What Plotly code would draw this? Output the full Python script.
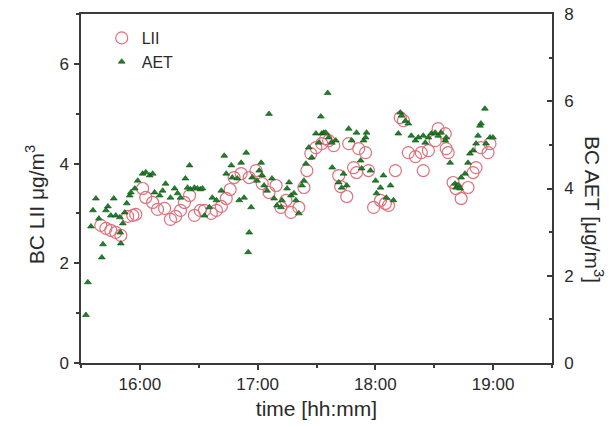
import datetime as dt
import plotly.graph_objects as go

# minutes after 15:00 and values
lii_min = [40.1, 42.7, 45.2, 47.7, 50.3, 53.8, 56.4, 57.9, 61.4, 63.0, 66.5, 69.0, 72.6, 75.6, 78.2,
           80.7, 82.7, 85.3, 87.8, 90.8, 92.9, 96.4, 99.0, 101.5, 104.0, 106.0, 108.0, 111.6, 115.7,
           119.2, 122.3, 125.8, 129.4, 131.9, 134.4, 137.0, 141.0, 143.6, 145.1, 147.1, 149.7, 152.7,
           154.7, 156.2, 158.8, 161.3, 162.3, 165.4, 166.4, 168.9, 170.4, 171.5, 175.0, 176.5, 179.1,
           182.6, 185.1, 186.7, 190.2, 192.7, 194.3, 196.8, 200.4, 203.4, 204.4, 207.0, 210.5, 212.0,
           215.6, 216.1, 217.1, 219.6, 221.1, 223.7, 227.2, 229.8, 231.3, 233.8, 237.4, 238.4]
lii_val = [2.76, 2.70, 2.66, 2.62, 2.56, 2.94, 2.96, 2.98, 3.50, 3.32, 3.22, 3.08, 3.10, 2.88, 2.94,
           3.06, 3.22, 3.36, 2.96, 3.06, 3.06, 3.00, 3.06, 3.14, 3.30, 3.48, 3.72, 3.80, 3.72,
           3.86, 3.60, 3.42, 3.56, 3.12, 3.26, 3.02, 3.12, 3.52, 3.86, 4.20, 4.32, 4.40,
           4.50, 4.46, 4.36, 3.76, 3.54, 3.34, 4.40, 3.92, 3.82, 4.30, 4.22, 3.86, 3.12,
           3.26, 3.20, 3.16, 3.86, 4.92, 4.86, 4.22, 4.14, 4.22, 3.86, 4.26, 4.46, 4.70,
           4.60, 4.30, 4.22, 3.62, 3.50, 3.30, 3.52, 3.82, 3.92, 4.32, 4.22, 4.40]

aet_min = [32.5, 33.5, 35.1, 36.1, 37.6, 39.1, 40.6, 41.2, 42.7, 43.7, 45.2, 46.7, 47.7, 49.8, 50.0,
           50.3, 51.3, 52.3, 53.3, 54.8, 55.4, 57.4, 58.9, 61.4, 63.0, 65.0, 66.5, 67.5, 70.1,
           71.6, 73.1, 75.6, 77.7, 79.2, 80.7, 83.2, 84.3, 85.3, 85.8, 87.8, 89.3, 90.8, 91.9,
           92.9, 95.4, 96.9, 99.0, 101.5, 103.0, 104.0, 106.6, 107.1, 109.6, 110.6, 111.6, 113.1,
           114.2, 115.2, 115.7, 116.7, 117.2, 119.7, 120.8, 121.8, 122.3, 123.3, 124.8, 125.8,
           127.3, 128.4, 129.9, 131.9, 132.4, 135.0, 136.0, 137.0, 138.5, 139.5, 141.0, 142.6,
           143.6, 144.6, 146.1, 147.6, 149.7, 151.2, 152.2, 152.7, 153.7, 154.7, 155.7, 156.2,
           157.8, 158.0, 159.8, 161.3, 162.8, 163.8, 165.4, 166.4, 167.9, 170.4, 172.5, 173.0,
           174.0, 175.0, 175.5, 177.5, 180.1, 180.6, 182.6, 184.1, 185.6, 187.7, 189.2, 191.7,
           192.7, 193.3, 195.3, 196.8, 198.3, 200.4, 201.9, 204.4, 205.4, 207.0, 208.5, 210.5,
           212.0, 213.5, 215.6, 216.1, 218.1, 220.6, 221.1, 222.2, 223.2, 223.7, 225.7, 227.2,
           228.2, 229.8, 231.3, 232.3, 233.3, 233.8, 235.8, 236.4, 238.4, 239.9]
aet_val = [1.10, 1.85, 3.13, 3.50, 3.77, 3.31, 2.42, 2.72, 3.50, 3.59, 3.38, 3.77, 3.38, 3.34, 2.99,
           2.74, 3.20, 3.45, 3.66, 3.84, 3.91, 4.00, 4.18, 4.34, 4.37, 4.30, 4.34, 3.91, 3.84,
           3.95, 4.11, 3.79, 4.00, 3.89, 3.79, 4.23, 4.02, 4.53, 3.98, 4.02, 4.00, 3.98, 4.00,
           3.38, 3.57, 3.79, 3.73, 3.95, 4.75, 4.34, 4.53, 4.25, 4.23, 3.73, 4.59, 3.79,
           4.82, 2.54, 2.99, 3.57, 4.25, 4.18, 4.41, 4.59, 4.30, 4.07, 3.95, 5.71,
           4.23, 3.77, 3.61, 3.57, 3.73, 4.00, 4.14, 3.84, 3.89, 3.73, 3.43, 4.07,
           4.18, 4.57, 4.94, 4.71, 5.26, 5.05, 5.65, 5.26, 5.28, 5.28, 6.19, 5.17,
           5.05, 4.48, 5.10, 4.14, 4.02, 4.34, 4.07, 5.37, 5.10, 5.28, 4.64, 4.46,
           5.10, 5.17, 5.28, 4.41, 4.18, 3.89, 4.02, 4.30, 3.79, 4.07, 3.73, 5.26,
           5.74, 5.67, 5.55, 5.49, 5.21, 5.10, 5.17, 5.21, 5.05, 5.17, 5.26, 5.28,
           5.21, 5.28, 5.10, 5.17, 4.59, 4.11, 4.02, 4.07, 4.00, 4.25, 4.34, 4.59,
           4.80, 4.87, 5.03, 5.21, 5.44, 5.49, 5.83, 5.03, 5.17, 5.17]

base = dt.datetime(2010, 1, 1, 15, 0)
to_t = lambda ms: [base + dt.timedelta(minutes=m) for m in ms]

FONT = "Liberation Sans, Arial, sans-serif"
AX = "#3a3a3a"

fig = go.Figure()
fig.add_trace(go.Scatter(
    x=to_t(lii_min), y=lii_val, mode="markers", name="LII",
    marker=dict(symbol="circle-open", size=12, color="#e0707c", line=dict(width=1.2, color="#e0707c")),
))
fig.add_trace(go.Scatter(
    x=to_t(aet_min), y=aet_val, mode="markers", name="AET", yaxis="y2",
    marker=dict(symbol="triangle-up", size=6, color="#1c8226", line=dict(width=0.6, color="#0f4a14")),
))

fig.update_layout(
    width=615, height=427,
    margin=dict(l=81, r=63, t=14, b=64),
    paper_bgcolor="white", plot_bgcolor="white",
    font=dict(family=FONT, size=17, color="#2a2a2a"),
    showlegend=True,
    legend=dict(x=0.044, y=0.98, xanchor="left", yanchor="top", bgcolor="rgba(0,0,0,0)",
                font=dict(size=16), itemsizing="trace", tracegroupgap=0),
    xaxis=dict(
        type="date", automargin=False,
        range=[base + dt.timedelta(minutes=30), base + dt.timedelta(minutes=270)],
        tick0=base + dt.timedelta(minutes=60), dtick=3600000, tickformat="%H:%M",
        ticks="outside", ticklen=5, tickwidth=1.5, tickcolor=AX,
        minor=dict(dtick=1800000, tick0=base + dt.timedelta(minutes=30), ticks="outside", ticklen=3, tickcolor=AX),
        showline=True, linecolor=AX, linewidth=1.5, mirror=True,
        showgrid=False, zeroline=False,
        title=dict(text="time [hh:mm]", font=dict(size=21), standoff=8),
    ),
    yaxis=dict(
        range=[0, 7], dtick=2, tick0=0, automargin=False,
        ticks="outside", ticklen=5, tickwidth=1.5, tickcolor=AX, ticklabelstandoff=2,
        minor=dict(dtick=1, ticks="outside", ticklen=3, tickcolor=AX),
        showline=True, linecolor=AX, linewidth=1.5,
        showgrid=False, zeroline=False,
    ),
    yaxis2=dict(
        range=[0, 8], dtick=2, tick0=0, overlaying="y", side="right", automargin=False,
        ticks="inside", ticklen=5, tickwidth=1.5, tickcolor=AX, ticklabelstandoff=7,
        minor=dict(dtick=1, ticks="inside", ticklen=3, tickcolor=AX),
        showline=True, linecolor=AX, linewidth=1.5,
        showgrid=False, zeroline=False,
    ),
    annotations=[
        dict(text="BC LII μg/m<sup>3</sup>", xref="paper", yref="paper",
             x=-0.097, y=0.453, textangle=-90, showarrow=False, font=dict(size=21),
             xanchor="center", yanchor="middle"),
        dict(text="BC AET [μg/m<sup>3</sup>]", xref="paper", yref="paper",
             x=1.088, y=0.44, textangle=90, showarrow=False, font=dict(size=21),
             xanchor="center", yanchor="middle"),
    ],
)

fig.write_html("out.html")
